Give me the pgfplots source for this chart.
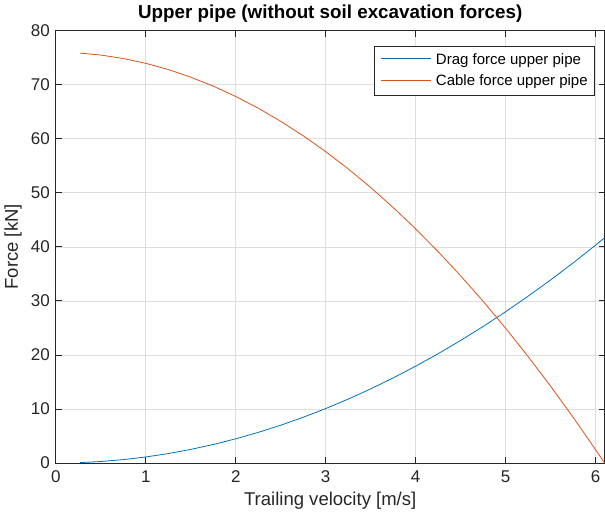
\documentclass[border=0pt]{standalone}
\usepackage{pgfplots}
\pgfplotsset{compat=1.18}
\usepackage{fontspec}
\setmainfont{Liberation Sans}
\definecolor{mblue}{rgb}{0,0.447,0.741}
\definecolor{morange}{rgb}{0.85,0.325,0.098}
\definecolor{axgray}{rgb}{0.15,0.15,0.15}
\definecolor{gridgray}{rgb}{0.87,0.87,0.87}
\begin{document}
\begin{tikzpicture}
\begin{axis}[
  scale only axis,
  width=411.75pt, height=324.4pt,
  xmin=0, xmax=6.1, ymin=0, ymax=80,
  xtick={0,1,2,3,4,5,6}, ytick={0,10,20,30,40,50,60,70,80},
  tick align=inside, major tick length=4.5pt,
  axis line style={axgray, line width=0.6pt},
  tick style={axgray, line width=0.6pt},
  grid=major, major grid style={gridgray, line width=0.5pt},
  /pgf/number format/assume math mode=true,
  tick label style={font=\fontsize{12.75}{14}\selectfont, text=axgray},
  xticklabel style={yshift=-2pt},
  yticklabel style={xshift=-1pt},
  title={\textbf{Upper pipe (without soil excavation forces)}},
  title style={font=\fontsize{14.1}{16}\selectfont, yshift=-3pt},
  xlabel={Trailing velocity [m/s]},
  ylabel={Force [kN]},
  label style={font=\fontsize{13.9}{16}\selectfont, text=axgray},
  legend style={at={(rel axis cs:1,1)}, anchor=north east, xshift=-7.5pt, yshift=-11.25pt,
    draw=axgray, font=\fontsize{11.25}{13}\selectfont,
    inner xsep=3pt, inner ysep=3.5pt, row sep=2.5pt},
  legend cell align=left,
  legend image code/.code={},
]
\addplot[draw=mblue, line width=0.6pt] coordinates {
(0.27,0.08) (0.5,0.28) (0.75,0.63) (1.0,1.12) (1.25,1.75) (1.5,2.52) (1.75,3.43)
(2.0,4.48) (2.25,5.67) (2.5,7.00) (2.75,8.47) (3.0,10.08) (3.25,11.83) (3.5,13.72)
(3.75,15.75) (4.0,17.92) (4.25,20.23) (4.5,22.68) (4.75,25.27) (5.0,28.00)
(5.25,30.87) (5.5,33.88) (5.75,37.03) (6.0,40.32) (6.1,41.68)
};
\addlegendentry{\textcolor{mblue}{\rule[0.33em]{37pt}{0.6pt}}\hspace{4pt}Drag force upper pipe}
\addplot[draw=morange, line width=0.6pt] coordinates {
(0.27,75.85) (0.5,75.49) (0.75,74.85) (1.0,73.96) (1.25,72.81) (1.5,71.40) (1.75,69.74)
(2.0,67.83) (2.25,65.66) (2.5,63.23) (2.75,60.55) (3.0,57.62) (3.25,54.43) (3.5,50.98)
(3.75,47.28) (4.0,43.32) (4.25,39.11) (4.5,34.64) (4.75,29.92) (5.0,24.94)
(5.25,19.70) (5.5,14.21) (5.75,8.47) (6.0,2.47) (6.1,0.0)
};
\addlegendentry{\textcolor{morange}{\rule[0.33em]{37pt}{0.6pt}}\hspace{4pt}Cable force upper pipe}
\end{axis}
\end{tikzpicture}
\end{document}
